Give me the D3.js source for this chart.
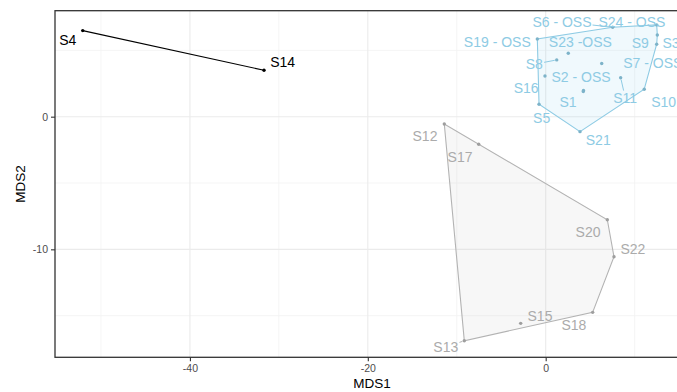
<!DOCTYPE html>
<html>
<head>
<meta charset="utf-8">
<script src="https://cdn.jsdelivr.net/npm/d3@7"></script>
<style>
  body { margin: 0; background: #fff; }
  text { font-family: "Liberation Sans", Arial, sans-serif; }
</style>
</head>
<body>
<svg id="chart" width="677" height="392"></svg>
<script>
// sites, group and NMDS coordinates
var sites = ["S4", "S14",
  "S12", "S17", "S20", "S22", "S18", "S15", "S13",
  "S19 - OSS", "S6 - OSS", "S24 - OSS", "S9", "S3", "S23 -OSS", "S8", "S7 - OSS",
  "S16", "S2 - OSS", "S1", "S11", "S10", "S5", "S21"];
var group = ["a", "a",
  "b", "b", "b", "b", "b", "b", "b",
  "c", "c", "c", "c", "c", "c", "c", "c",
  "c", "c", "c", "c", "c", "c", "c"];
var mds1 = [-52.05, -31.67,
  -11.40, -7.53, 6.93, 7.68, 5.28, -2.81, -9.15,
  -0.94, 7.53, 12.48, 12.55, 12.48, 2.54, 1.24, 6.30,
  -0.08, 4.25, 4.23, 8.43, 11.08, -0.75, 3.86];
var mds2 = [6.49, 3.50,
  -0.55, -2.08, -7.77, -10.56, -14.75, -15.58, -16.89,
  5.86, 6.74, 6.92, 6.16, 5.46, 4.78, 4.28, 4.01,
  3.07, 1.98, 1.89, 2.94, 2.07, 0.94, -1.13];
// where the (repelled) labels ended up
var labX = [-53.74, -29.57,
  -13.57, -9.63, 4.76, 9.81, 3.18, -0.64, -11.23,
  -5.44, 1.83, 9.70, 10.64, 14.10, 3.90, -1.28, 12.05,
  -2.20, 3.98, 2.52, 8.93, 13.27, -0.45, 5.91];
var labY = [5.78, 4.13,
  -1.46, -3.04, -8.69, -9.98, -15.71, -15.03, -17.37,
  5.66, 7.16, 7.16, 5.53, 5.53, 5.66, 3.95, 4.03,
  2.14, 3.02, 1.13, 1.43, 1.13, -0.12, -1.76];
var segLabels = ["S6 - OSS", "S8", "S11", "S13"];

var xTicks = [-40, -20, 0];
var xMinor = [-50, -30, -10, 10];
var yTicks = [0, -10];
var yMinor = [5, -5, -15];

var colours = { a: "#000000", b: "#ababab", c: "#8ecbe4" };
var lines = { a: "#000000", b: "#b3b3b3", c: "#8ecbe4" };
var fills = { a: "none", b: "#c8c8c8", c: "#87ceeb" };

var svg = d3.select("#chart");
var pLeft = 55, pTop = 10.7, pBottom = 357.3, pRight = 700;

var x = d3.scaleLinear().domain([-55.17, 17.35]).range([pLeft, pRight]);
var y = d3.scaleLinear().domain([-18.14, 7.99]).range([pBottom, pTop]);

svg.append("clipPath").attr("id", "panel")
  .append("rect").attr("x", pLeft).attr("y", pTop)
  .attr("width", pRight - pLeft).attr("height", pBottom - pTop);

var g = svg.append("g").attr("clip-path", "url(#panel)");

// grid
g.selectAll(".vminor").data(xMinor).enter().append("line")
  .attr("x1", d => x(d)).attr("x2", d => x(d)).attr("y1", pTop).attr("y2", pBottom)
  .attr("stroke", "#f2f2f2").attr("stroke-width", 0.8);
g.selectAll(".hminor").data(yMinor).enter().append("line")
  .attr("y1", d => y(d)).attr("y2", d => y(d)).attr("x1", pLeft).attr("x2", pRight)
  .attr("stroke", "#f2f2f2").attr("stroke-width", 0.8);
g.selectAll(".vmajor").data(xTicks).enter().append("line")
  .attr("x1", d => x(d)).attr("x2", d => x(d)).attr("y1", pTop).attr("y2", pBottom)
  .attr("stroke", "#ebebeb").attr("stroke-width", 1.1);
g.selectAll(".hmajor").data(yTicks).enter().append("line")
  .attr("y1", d => y(d)).attr("y2", d => y(d)).attr("x1", pLeft).attr("x2", pRight)
  .attr("stroke", "#ebebeb").attr("stroke-width", 1.1);

var pts = sites.map(function (s, i) {
  return { name: s, grp: group[i], px: x(mds1[i]), py: y(mds2[i]), lx: x(labX[i]), ly: y(labY[i]) };
});

// hulls
["b", "c", "a"].forEach(function (k) {
  var gp = pts.filter(p => p.grp == k).map(p => [p.px, p.py]);
  if (gp.length < 3) {
    g.append("line").attr("x1", gp[0][0]).attr("y1", gp[0][1])
      .attr("x2", gp[1][0]).attr("y2", gp[1][1])
      .attr("stroke", lines[k]).attr("stroke-width", 1.2);
    return;
  }
  var hull = d3.polygonHull(gp);
  g.append("path").attr("d", "M" + hull.join("L") + "Z")
    .attr("fill", fills[k]).attr("fill-opacity", k == "c" ? 0.12 : 0.15)
    .attr("stroke", lines[k]).attr("stroke-width", 1.1);
});

var segG = g.append("g");

g.selectAll(".pt").data(pts).enter().append("circle")
  .attr("cx", d => d.px).attr("cy", d => d.py).attr("r", 1.7)
  .attr("fill", d => d.grp == "a" ? "#000" : d3.color(lines[d.grp]).darker(0.35));

var labs = g.selectAll(".lab").data(pts).enter().append("text")
  .attr("x", d => d.lx).attr("y", d => d.ly)
  .attr("text-anchor", "middle").attr("dy", "0.35em")
  .attr("font-size", 14).attr("fill", d => colours[d.grp])
  .text(d => d.name);

// label segments: from the edge of the label box to the point
labs.filter(d => segLabels.indexOf(d.name) >= 0).each(function (d) {
  var b = this.getBBox();
  var cx = b.x + b.width / 2, cy = b.y + b.height / 2;
  var dx = d.px - cx, dy = d.py - cy;
  var tx = dx != 0 ? (b.width / 2 + 1) / Math.abs(dx) : Infinity;
  var ty = dy != 0 ? (b.height / 2 - 1) / Math.abs(dy) : Infinity;
  var t = Math.min(tx, ty, 1);
  var len = Math.sqrt(dx * dx + dy * dy);
  var e = 1 - 2 / len;
  segG.append("line")
    .attr("x1", cx + dx * t).attr("y1", cy + dy * t)
    .attr("x2", cx + dx * e).attr("y2", cy + dy * e)
    .attr("stroke", lines[d.grp]).attr("stroke-width", 1);
});

// panel border
svg.append("rect").attr("x", pLeft).attr("y", pTop)
  .attr("width", pRight - pLeft).attr("height", pBottom - pTop)
  .attr("fill", "none").attr("stroke", "#333").attr("stroke-width", 1.3);

// axes
var xAxis = d3.axisBottom(x).tickValues(xTicks).tickSize(4).tickPadding(3).tickFormat(d => String(d));
var yAxis = d3.axisLeft(y).tickValues(yTicks).tickSize(4).tickPadding(3).tickFormat(d => String(d));
var ax = svg.append("g").attr("transform", "translate(0," + pBottom + ")").call(xAxis);
var ay = svg.append("g").attr("transform", "translate(" + pLeft + ",0)").call(yAxis);
[ax, ay].forEach(function (a) {
  a.select(".domain").remove();
  a.selectAll(".tick line").attr("stroke", "#333").attr("stroke-width", 1.1);
  a.selectAll(".tick text").attr("fill", "#4d4d4d").attr("font-size", 10.5)
    .attr("font-family", "Liberation Sans, Arial, sans-serif");
});

svg.append("text").attr("x", (pLeft + 677) / 2 + 6).attr("y", 388)
  .attr("text-anchor", "middle").attr("font-size", 13.5).text("MDS1");
svg.append("text").attr("transform", "translate(25," + (pTop + pBottom) / 2 + ") rotate(-90)")
  .attr("text-anchor", "middle").attr("font-size", 13.5).text("MDS2");
</script>
</body>
</html>
